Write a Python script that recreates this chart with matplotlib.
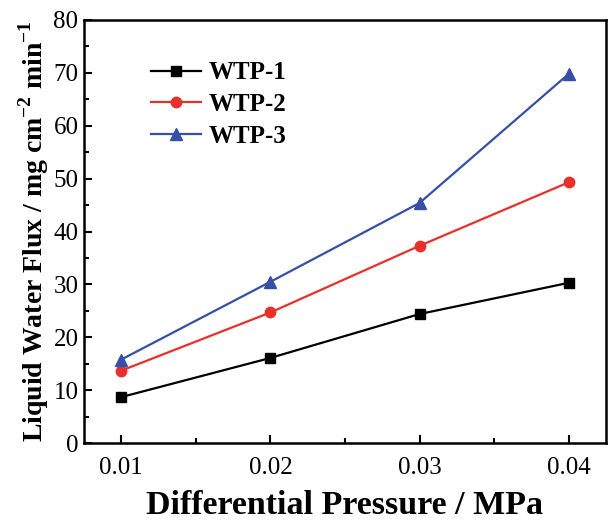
import matplotlib
matplotlib.use('Agg')
import matplotlib.pyplot as plt
from matplotlib.ticker import MultipleLocator

matplotlib.rcParams['font.family'] = 'Liberation Serif'
matplotlib.rcParams['mathtext.fontset'] = 'custom'
matplotlib.rcParams['mathtext.rm'] = 'Liberation Serif'
matplotlib.rcParams['mathtext.bf'] = 'Liberation Serif:bold'

pressure = [0.01, 0.02, 0.03, 0.04]
wtp1 = [8.7, 16.1, 24.4, 30.3]
wtp2 = [13.7, 24.7, 37.3, 49.3]
wtp3 = [15.8, 30.5, 45.4, 69.8]

fig = plt.figure(figsize=(6.09, 5.25), dpi=100)
ax = fig.add_axes([0.138, 0.156, 0.857, 0.806])

ax.plot(pressure, wtp1, color='black', marker='s', markersize=7, lw=1.6, label='WTP-1')
ax.plot(pressure, wtp2, color='#e8302a', marker='o', markersize=7.5, lw=1.6, label='WTP-2')
ax.plot(pressure, wtp3, color='#3550a5', marker='^', markersize=8, lw=1.6, label='WTP-3')

ax.set_xlim(0.0075, 0.0425)
ax.set_ylim(0, 80)
ax.xaxis.set_major_locator(MultipleLocator(0.01))
ax.xaxis.set_minor_locator(MultipleLocator(0.005))
ax.yaxis.set_major_locator(MultipleLocator(10))
ax.yaxis.set_minor_locator(MultipleLocator(5))
ax.tick_params(which='both', direction='in', top=False, right=False, width=1.5)
ax.tick_params(which='major', length=6, labelsize=18)
ax.tick_params(which='minor', length=3.5)
ax.tick_params(axis='x', pad=10)
ax.tick_params(axis='y', pad=4)
for s in ax.spines.values():
    s.set_linewidth(1.8)

ax.set_xlabel('Differential Pressure / MPa', fontsize=24.5, fontweight='bold', labelpad=8)
ax.set_ylabel(r'Liquid Water Flux / mg cm$^{\mathbf{-2}}$ min$^{\mathbf{-1}}$',
              fontsize=20, fontweight='bold', labelpad=2)

leg = ax.legend(loc='upper left', bbox_to_anchor=(0.085, 0.955), frameon=False,
                prop={'weight': 'bold', 'size': 18}, handlelength=2.0,
                labelspacing=0.35, handletextpad=0.3)

fig.savefig('out.png', dpi=100)
